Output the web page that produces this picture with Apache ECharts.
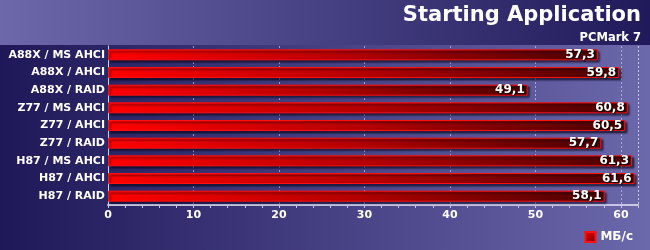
<!DOCTYPE html>
<html><head><meta charset="utf-8">
<script src="https://cdn.jsdelivr.net/npm/echarts@6/dist/echarts.min.js"></script>
<style>html,body{margin:0;padding:0;}#c{width:650px;height:250px;}</style>
</head><body><div id="c"></div>
<script>
const categories = ['A88X / MS AHCI','A88X / AHCI','A88X / RAID','Z77 / MS AHCI','Z77 / AHCI','Z77 / RAID','H87 / MS AHCI','H87 / AHCI','H87 / RAID'];
const values = [57.3, 59.8, 49.1, 60.8, 60.5, 57.7, 61.3, 61.6, 58.1];
const seriesName = 'МБ/с';
const titleText = 'Starting Application';
const subtitleText = 'PCMark 7';
const axisMax = 62;

const chart = echarts.init(document.getElementById('c'));
const font = 'DejaVu Sans';
const barGrad = new echarts.graphic.LinearGradient(0,0,1,0,[{offset:0,color:'#ff0000'},{offset:0.5,color:'#b40000'},{offset:1,color:'#4a0000'}]);
chart.setOption({
  animation:false,
  graphic:[
    {type:'rect',z:-10,shape:{x:0,y:0,width:650,height:45},style:{fill:new echarts.graphic.LinearGradient(0,0,1,0,[{offset:0,color:'#6c68aa'},{offset:1,color:'#201a5a'}])}},
    {type:'rect',z:-10,shape:{x:0,y:45,width:650,height:205},style:{fill:new echarts.graphic.LinearGradient(0,0,1,0,[{offset:0,color:'#1e1858'},{offset:1,color:'#6c68ac'}])}},
    {type:'text',right:9,top:5,style:{text:titleText,fill:'#fff',font:'bold 21px "DejaVu Sans"',align:'right'}},
    {type:'text',right:9,top:32,style:{text:subtitleText,fill:'#fff',font:'bold 11.5px "DejaVu Sans"',align:'right'}}
  ],
  grid:{left:108,right:12,top:46,bottom:45,outerBoundsMode:'none'},
  legend:{right:12,top:226,itemWidth:10,itemHeight:10,icon:'rect',itemGap:10,
    textStyle:{color:'#fff',fontFamily:font,fontWeight:'bold',fontSize:12},
    itemStyle:{color:new echarts.graphic.LinearGradient(0,0,1,1,[{offset:0,color:'#ff0000'},{offset:1,color:'#600000'}])},
    data:[seriesName]},
  xAxis:{type:'value',min:0,max:axisMax,interval:10,
    axisLine:{show:true,lineStyle:{color:'#c8c6e6',width:2}},
    axisTick:{show:true,length:3,lineStyle:{color:'#c8c6e6'}},
    minorTick:{show:true,splitNumber:5,length:3,lineStyle:{color:'#c8c6e6'}},
    splitLine:{show:true,lineStyle:{color:'rgba(220,220,240,0.6)',type:[2,2],width:1}},
    axisLabel:{color:'#fff',fontFamily:font,fontWeight:'bold',fontSize:11,margin:5,showMaxLabel:false}
  },
  yAxis:{type:'category',data:categories,inverse:true,
    axisLine:{show:true,lineStyle:{color:'#d0d0ea',width:1}},
    axisTick:{show:false},
    axisLabel:{color:'#fff',fontFamily:font,fontWeight:'bold',fontSize:11,margin:3}
  },
  series:[{name:seriesName,type:'bar',data:values,barWidth:11,
    itemStyle:{color:barGrad,borderColor:'#ff1010',borderWidth:1,shadowColor:'rgba(0,0,20,0.6)',shadowOffsetX:2,shadowOffsetY:2,shadowBlur:2},
    label:{show:true,position:'insideRight',distance:3,color:'#fff',fontFamily:font,fontWeight:'bold',fontSize:12,
      textShadowColor:'#000',textShadowBlur:2,textShadowOffsetX:1,textShadowOffsetY:1,
      formatter:p=>String(p.value).replace('.',',')},
    markLine:{silent:true,symbol:'none',label:{show:false},lineStyle:{color:'rgba(220,220,240,0.6)',type:[2,2],width:1},data:[{xAxis:axisMax}]}
  }]
});
</script></body></html>
